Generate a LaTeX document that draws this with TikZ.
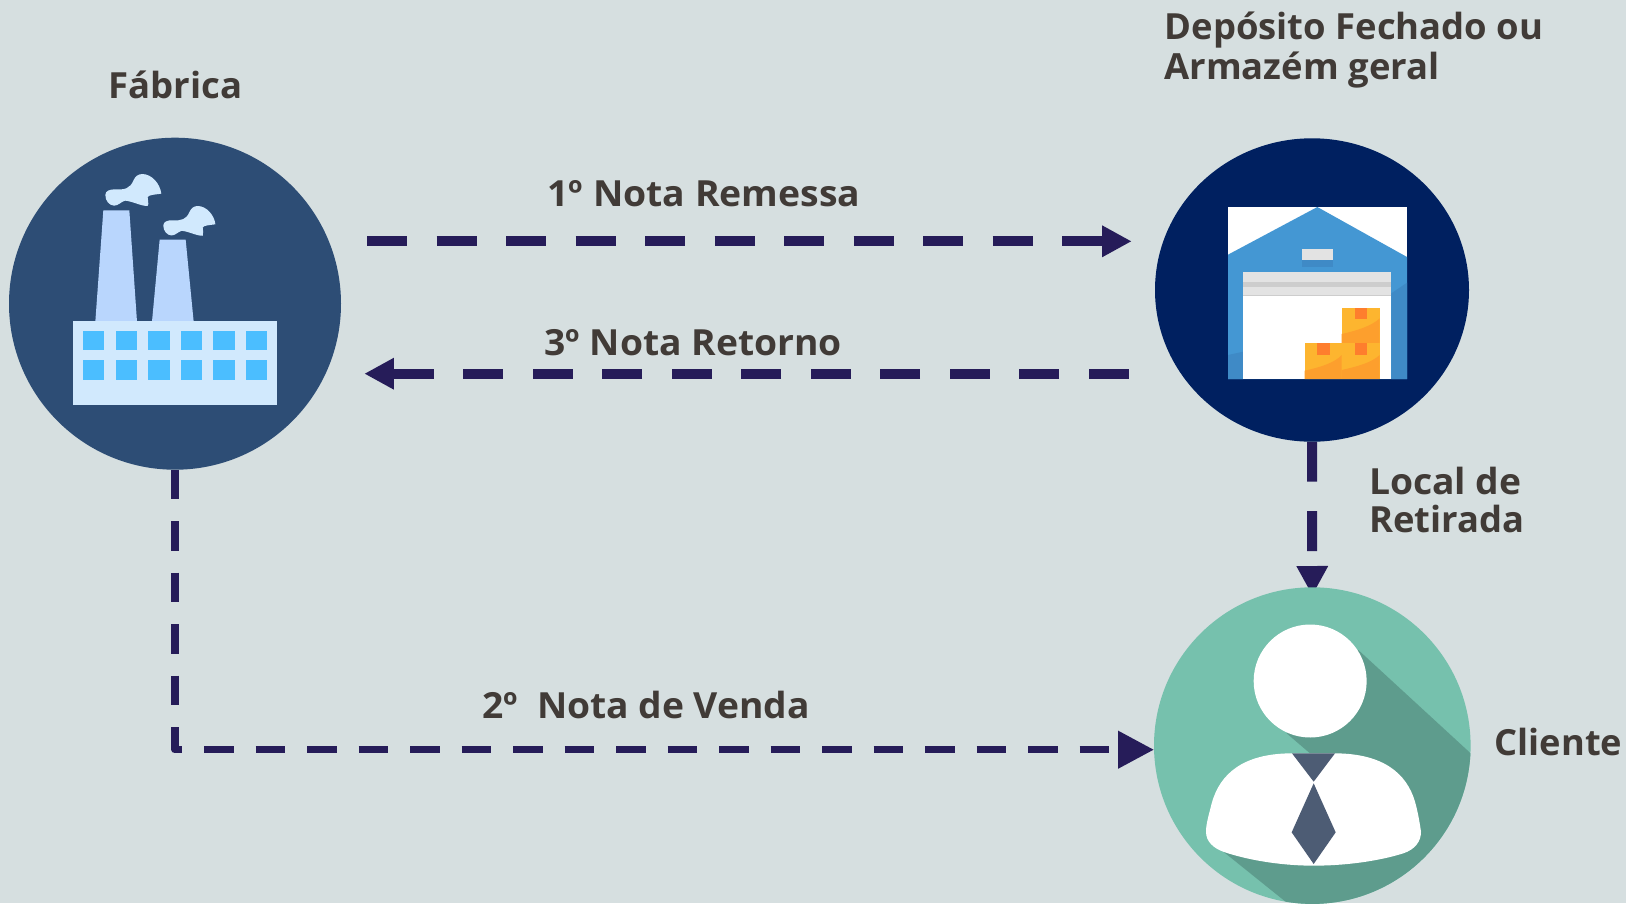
\documentclass[tikz,border=0pt]{standalone}
\usepackage{fontspec}
\setmainfont{Open Sans}
\usetikzlibrary{arrows.meta,shapes.geometric}
\pgfdeclarelayer{under}
\pgfsetlayers{under,main}
\definecolor{bgc}{HTML}{D6DFE0}
\definecolor{linec}{HTML}{261C59}
\definecolor{txtc}{HTML}{413B37}
\definecolor{fabc}{HTML}{2D4D75}
\definecolor{depc}{HTML}{002060}
\definecolor{clic}{HTML}{76C1AD}
\definecolor{clis}{HTML}{5E9C8D}
\definecolor{tiec}{HTML}{4D5C74}
\definecolor{fabl}{HTML}{D1E9FD}
\definecolor{fabw}{HTML}{4BBEFF}
\definecolor{fabh}{HTML}{B9D6FD}
\definecolor{blu}{HTML}{4497D3}
\definecolor{blud}{HTML}{3F8AC6}
\definecolor{gra}{HTML}{E3E3E3}
\definecolor{grd}{HTML}{CDCDCD}
\definecolor{boxa}{HTML}{FDB52F}
\definecolor{boxb}{HTML}{FD9F2D}
\definecolor{boxc}{HTML}{FE7E2D}
\tikzset{
  x=1pt,y=-1pt,
  lbl/.style={anchor=base west,inner sep=0pt,outer sep=0pt,text=txtc,font=\fontsize{36}{40.7}\selectfont\bfseries},
  lblm/.style={anchor=west,inner sep=0pt,outer sep=0pt,text=txtc,align=left,font=\fontsize{36}{40.7}\selectfont\bfseries},
  lbln/.style={anchor=west,inner sep=0pt,outer sep=0pt,text=txtc,align=left,font=\fontsize{36}{38.7}\selectfont\bfseries},
  thickcon/.style={draw=linec,line width=10pt,dash pattern=on 40pt off 29.5pt,
     -{Triangle[length=29.6pt,width=29.6pt,fill=linec]}},
  thincon/.style={draw=linec,line width=7.5pt,line join=round,dash pattern=on 29.5pt off 22pt,
     -{Triangle[length=36pt,width=36pt,fill=linec]}},
  disc/.style={inner sep=0pt,outer sep=0pt,draw=none},
  icon/.style={x=0.33333pt,y=-0.33333pt},
}
\newcommand{\smokepath}{(316,225) .. controls (316,212) and (330,208) .. (345,208) .. controls (375,210) and (390,205) .. (400,182) .. controls (406,168) and (415,162) .. (428,162) .. controls (455,163) and (480,190) .. (484,221) .. controls (465,224) and (445,224) .. (443,232) .. controls (442,240) and (448,250) .. (443,258) .. controls (425,259) and (395,243) .. (375,242) .. controls (362,246) and (355,257) .. (342,257) .. controls (328,256) and (316,243) .. (316,225) -- cycle}
\begin{document}
\begin{tikzpicture}
\useasboundingbox (0,0) rectangle (1626,903);
\begin{pgfonlayer}{under}
\fill[bgc] (0,0) rectangle (1626,903);
\end{pgfonlayer}

% discs
\node[disc,circle,fill=fabc,minimum size=332pt] (fab) at (175,303.7) {};
\node[disc,ellipse,fill=depc,minimum width=314pt,minimum height=303.4pt] (dep) at (1312,290) {};
\node[disc,circle,fill=clic,minimum size=316.6pt] (cli) at (1312.3,745.6) {};

% factory icon
\begin{scope}[shift={(0,120)},icon]
  \fill[fabh] (310,271) -- (388,271) -- (411,605) -- (286,605) -- cycle;
  \fill[fabh] (479,359) -- (557,359) -- (581,605) -- (456,605) -- cycle;
  \fill[fabl] \smokepath;
  \begin{scope}[shift={(490,258)},x=0.31pt,y=-0.31pt]
    \fill[fabl] [shift={(-316,-162)}] \smokepath;
  \end{scope}
  \fill[fabl] (218,603) rectangle (831,856);
  \foreach \i in {0,1,2,3,4,5} {
    \fill[fabw] ({249+\i*97.8},632) rectangle ++(64,59);
    \fill[fabw] ({249+\i*97.8},720) rectangle ++(64,59);
  }
\end{scope}

% warehouse icon
\begin{scope}[shift={(1140,120)},icon]
  \fill[white] (264,261) rectangle (801,777);
  \fill[blu] (264,404) -- (532,261) -- (801,411) -- (801,777) -- (264,777) -- cycle;
  \fill[blud] (264,705) -- (310,695) -- (310,777) -- (264,777) -- cycle;
  \fill[blud] (754,520) -- (801,488) -- (801,777) -- (754,777) -- cycle;
  \fill[blud] (486,420) rectangle (579,440);
  \fill[gra] (486,386) rectangle (579,420);
  \fill[white] (310,527) rectangle (754,777);
  \fill[gra] (310,457) rectangle (754,527);
  \fill[grd] (310,485) rectangle (754,501);
  \fill[grd] (310,524) rectangle (754,528);
  % boxes
  \fill[boxa] (605,563) rectangle (719,669);
  \fill[boxb] (605,642) .. controls (650,632) and (695,618) .. (719,595) -- (719,669) -- (605,669) -- cycle;
  \fill[boxc] (644,563) rectangle (681,598);
  \fill[boxa] (494,669) rectangle (605,777);
  \fill[boxb] (494,752) .. controls (540,742) and (585,728) .. (605,705) -- (605,777) -- (494,777) -- cycle;
  \fill[boxc] (532,669) rectangle (570,705);
  \fill[boxa] (605,669) rectangle (719,777);
  \fill[boxb] (605,750) .. controls (650,740) and (695,728) .. (719,705) -- (719,777) -- (605,777) -- cycle;
  \fill[boxc] (644,669) rectangle (681,705);
\end{scope}

% client icon
\begin{scope}
  \clip (1312.3,745.6) circle[radius=158.3];
  \begin{scope}[shift={(1130,560)},icon]
    \fill[clis] (685,270) -- (1060,615) -- (1060,1100) -- (560,1100) -- (280,875) -- (400,700) -- (540,580) -- (470,520) -- (540,400) -- cycle;
  \end{scope}
\end{scope}
\begin{scope}[shift={(1130,560)},icon]
  \fill[white] (540.5,363) circle[radius=169.5];
  \fill[white] (480,580) .. controls (340,582) and (270,640) .. (245,730)
     .. controls (238,760) and (228,790) .. (228,815)
     .. controls (228,845) and (250,865) .. (285,877)
     .. controls (370,905) and (470,917) .. (550,917)
     .. controls (640,917) and (740,905) .. (820,880)
     .. controls (855,868) and (873,845) .. (873,815)
     .. controls (868,780) and (862,750) .. (855,725)
     .. controls (830,640) and (760,582) .. (620,580) -- cycle;
  \fill[tiec] (486,580) -- (615,580) -- (551,665) -- cycle;
  \fill[tiec] (551,670) -- (617,817) -- (551,912) -- (485,817) -- cycle;
\end{scope}

% connector free ends
\coordinate (rema) at (367,241.3);
\coordinate (remb) at (1131.7,241.3);
\coordinate (reta) at (1128.7,373.7);
\coordinate (retb) at (364.3,373.7);

\begin{pgfonlayer}{under}
\draw[thickcon] (rema) -- (remb);
\draw[thickcon] (reta) -- (retb);
\draw[thickcon,shorten >=-8.3pt] (dep.south) -- (cli.north);
\draw[thincon] (fab.south) |- ([yshift=-4.1pt]cli.west);
\end{pgfonlayer}

% labels
\node[lbl] (tfab) at (108.5,98.5) {\scalebox{1.015}[1]{Fábrica}};
\node[lblm] (tdep) at (1164.5,50) {\scalebox{1.012}[1]{Depósito Fechado ou}\\\scalebox{1.012}[1]{Armazém geral}};
\node[lbl] (trem) at (547.5,206) {\scalebox{1.038}[1]{1º Nota Remessa}};
\node[lbl] (tret) at (544.5,355) {\scalebox{1.035}[1]{3º Nota Retorno}};
\node[lbl] (tven) at (482,718.5) {\scalebox{1.034}[1]{2º\ \ Nota de Venda}};
\node[lbln] (tloc) at (1369,500) {\scalebox{1.035}[1]{Local de}\\\scalebox{1.01}[1]{Retirada}};
\node[lbl] (tcli) at (1494.7,755) {\scalebox{1.007}[1]{Cliente}};
\end{tikzpicture}
\end{document}
